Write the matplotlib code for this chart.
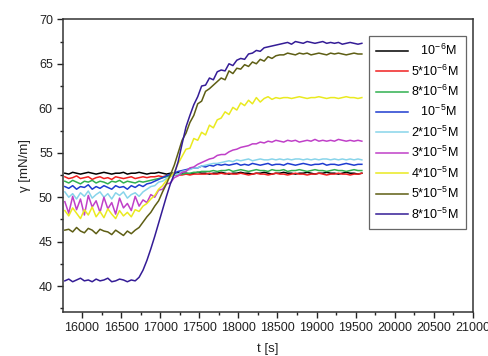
import numpy as np
import matplotlib
matplotlib.use("Agg")
import matplotlib.pyplot as plt
from matplotlib.ticker import MultipleLocator

plt.rcParams['font.family'] = ['Liberation Sans', 'DejaVu Sans']
plt.rcParams['mathtext.fontset'] = 'custom'
plt.rcParams['mathtext.rm'] = 'Liberation Sans'
plt.rcParams['mathtext.it'] = 'Liberation Sans:italic'

# sampling times of the surface tension records [s]
t = np.arange(15780, 19600, 50)

# labels without a prefactor get a leading gap so the column reads right-aligned
conc_labels = [r"$\hspace{0.95}10^{-6}$M", r"5*$10^{-6}$M", r"8*$10^{-6}$M",
               r"$\hspace{0.95}10^{-5}$M", r"2*$10^{-5}$M", r"3*$10^{-5}$M",
               r"4*$10^{-5}$M", r"5*$10^{-5}$M", r"8*$10^{-5}$M"]
colors = ['#000000', '#f02020', '#30b050', '#1e3cd0', '#88d4ea',
          '#c040c8', '#eaea20', '#5e5e14', '#341c96']

g_1e6 = [52.7, 52.6, 52.8, 52.7, 52.6, 52.7, 52.8, 52.7, 52.6, 52.7, 52.8, 52.7, 52.6, 52.7,
         52.7, 52.8, 52.6, 52.7, 52.7, 52.8, 52.7, 52.6, 52.7, 52.7, 52.8, 52.7, 52.6, 52.7,
         52.7, 52.8, 52.7, 52.7, 52.6, 52.7, 52.8, 52.7, 52.7, 52.6, 52.7, 52.7, 52.8, 52.7,
         52.6, 52.7, 52.7, 52.8, 52.7, 52.7, 52.6, 52.7, 52.7, 52.8, 52.7, 52.6, 52.7, 52.7,
         52.8, 52.7, 52.7, 52.6, 52.7, 52.7, 52.8, 52.7, 52.6, 52.7, 52.7, 52.8, 52.7, 52.7,
         52.6, 52.7, 52.8, 52.7, 52.7, 52.6, 52.7]
g_5e6 = [52.3, 52.1, 52.2, 52.4, 52.1, 52.2, 52.3, 52.0, 52.2, 52.3, 52.1, 52.2, 52.0, 52.3,
         52.2, 52.1, 52.2, 52.3, 52.1, 52.2, 52.3,
         52.2, 52.3, 52.3, 52.4, 52.3, 52.4, 52.4, 52.5, 52.5, 52.5, 52.6, 52.5, 52.6, 52.6,
         52.6, 52.6, 52.7, 52.6, 52.6, 52.7,
         52.6, 52.7, 52.6, 52.6, 52.7, 52.6, 52.5, 52.6, 52.7, 52.6, 52.6, 52.5, 52.6, 52.7,
         52.6, 52.6, 52.5, 52.6, 52.7, 52.6, 52.6, 52.5, 52.6, 52.6, 52.7, 52.6, 52.5, 52.6,
         52.6, 52.7, 52.6, 52.6, 52.5, 52.6, 52.6, 52.7]
g_8e6 = [51.8, 51.6, 51.9, 51.7, 51.5, 51.8, 51.7, 51.9, 51.6, 51.8, 51.7, 51.5, 51.8, 51.7,
         51.9, 51.6, 51.8, 51.7, 51.6, 51.8, 51.7,
         51.8, 51.9, 52.0, 52.1, 52.2, 52.3, 52.4, 52.5, 52.6, 52.6, 52.7, 52.7, 52.8, 52.8,
         52.9, 52.9, 52.9, 53.0, 52.9, 53.0,
         53.0, 53.1, 52.9, 53.0, 53.1, 53.0, 52.9, 53.0, 53.1, 53.0, 53.0, 52.9, 53.1, 53.0,
         53.0, 53.1, 52.9, 53.0, 53.0, 53.1, 53.0, 52.9, 53.0, 53.1, 53.0, 53.0, 52.9, 53.0,
         53.1, 53.0, 53.0, 52.9, 53.0, 53.1, 53.0, 53.0]
g_1e5 = [51.2, 51.0, 51.3, 50.9, 51.2, 51.1, 51.4, 50.9, 51.2, 51.0, 51.3, 51.1, 50.9, 51.3,
         51.1, 51.2, 50.9, 51.3, 51.1, 51.4, 51.2,
         51.5, 51.6, 51.8, 52.0, 52.2, 52.4, 52.6, 52.7, 52.9, 53.0, 53.1, 53.2, 53.3, 53.3,
         53.5, 53.4, 53.6, 53.5, 53.7, 53.6,
         53.7, 53.6, 53.7, 53.8, 53.6, 53.7, 53.6, 53.8, 53.7, 53.6, 53.7, 53.8, 53.6, 53.7,
         53.7, 53.6, 53.8, 53.7, 53.6, 53.7, 53.8, 53.7, 53.6, 53.7, 53.7, 53.8, 53.6, 53.7,
         53.7, 53.6, 53.7, 53.8, 53.7, 53.6, 53.7, 53.7]
g_2e5 = [50.6, 50.0, 50.4, 49.8, 50.5, 50.1, 50.7, 49.9, 50.3, 50.6, 50.0, 50.4, 49.8, 50.5,
         50.2, 50.6, 49.9, 50.3, 50.5, 50.1, 50.6,
         50.9, 51.2, 51.3, 51.7, 51.8, 52.1, 52.3, 52.5, 52.6, 52.9, 53.0, 53.1, 53.3, 53.3,
         53.5, 53.6, 53.7, 53.8, 53.8, 53.9,
         54.0, 54.1, 54.0, 54.2, 54.1, 54.2, 54.3, 54.1, 54.2, 54.3, 54.2, 54.2, 54.3, 54.2,
         54.3, 54.2, 54.3, 54.2, 54.3, 54.3, 54.2, 54.3, 54.2, 54.3, 54.2, 54.3, 54.3, 54.2,
         54.3, 54.2, 54.3, 54.2, 54.3, 54.2, 54.3, 54.2]
g_3e5 = [49.5, 48.2, 50.1, 48.6, 49.8, 48.0, 50.2, 48.9, 49.6, 48.3, 50.0, 48.7, 49.4, 48.1,
         49.9, 48.8, 49.3, 48.5, 50.1, 49.0, 49.7,
         49.4, 50.3, 50.0, 50.8, 50.9, 51.5, 51.6, 52.2, 52.4, 52.8, 52.9, 53.3, 53.4, 53.7,
         53.9, 54.1, 54.3, 54.4, 54.7, 54.8, 54.8, 55.1, 55.3, 55.4, 55.6, 55.7, 55.8, 56.0,
         56.0, 56.2, 56.1,
         56.3, 56.2, 56.4, 56.3, 56.2, 56.4, 56.3, 56.4, 56.2, 56.3, 56.4, 56.3, 56.5, 56.3,
         56.4, 56.3, 56.4, 56.3, 56.5, 56.4, 56.3, 56.4, 56.3, 56.4, 56.3]
g_4e5 = [48.5, 47.9, 48.8, 48.2, 47.6, 48.6, 48.0, 48.9, 47.8, 48.4, 47.7, 48.7, 48.1, 47.6,
         48.5, 47.9, 48.3, 47.8, 48.6,
         48.4, 49.0, 49.3, 49.8, 50.2, 50.9, 51.3, 51.9, 52.3, 52.8, 53.8, 54.6, 55.4, 55.5,
         56.6, 56.4, 57.3, 57.0, 58.1, 57.8, 58.7, 58.9, 59.6, 59.3, 60.1, 59.8, 60.6, 60.3,
         60.9, 60.5, 61.2, 60.7, 61.1, 61.3, 61.0, 61.2,
         61.1, 61.2, 61.2, 61.1, 61.2, 61.3, 61.2, 61.1, 61.2, 61.2, 61.3, 61.2, 61.1, 61.2,
         61.2, 61.1, 61.2, 61.3, 61.2, 61.2, 61.1, 61.2]
g_5e5 = [46.3, 46.4, 46.1, 46.6, 46.2, 46.0, 46.5, 46.3, 45.9, 46.4, 46.2, 46.1, 45.8, 46.3,
         46.0, 45.7, 46.2, 45.9, 46.3,
         46.6, 47.2, 47.8, 48.3, 49.0, 49.6, 50.6, 51.5, 52.5, 53.6, 55.0, 56.4, 57.2, 58.4,
         59.2, 60.5, 60.8, 61.9, 62.2, 62.6, 63.0, 63.4, 63.2, 64.2, 63.9, 64.5, 64.4, 64.9,
         64.7, 65.2, 65.0, 65.5, 65.3, 65.8, 65.6, 65.9, 66.0,
         66.0, 66.2, 66.1, 66.0, 66.2, 66.1, 66.2, 66.0, 66.1, 66.2, 66.1, 66.0, 66.2, 66.1,
         66.2, 66.1, 66.0, 66.1, 66.2, 66.1, 66.1]
g_8e5 = [40.6, 40.8, 40.5, 40.7, 40.9, 40.6, 40.7, 40.5, 40.8, 40.6, 40.7, 40.9, 40.5, 40.6,
         40.8, 40.7, 40.5, 40.7, 40.6,
         41.0, 41.8, 42.9, 44.2, 45.6, 47.1, 48.6, 50.1, 51.5, 52.6, 54.0, 56.0, 57.9, 59.2,
         60.4, 61.3, 62.5, 62.6, 63.4, 63.2, 64.1, 64.3, 64.2, 65.0, 64.8, 65.4, 65.6, 65.5,
         66.1, 66.2, 66.5, 66.4, 66.8, 66.9, 67.0, 67.1, 67.2,
         67.3, 67.4, 67.2, 67.5, 67.4, 67.3, 67.5, 67.4, 67.3, 67.4, 67.5, 67.3, 67.4, 67.3,
         67.4, 67.2, 67.3, 67.4, 67.3, 67.2, 67.3]

series = [g_1e6, g_5e6, g_8e6, g_1e5, g_2e5, g_3e5, g_4e5, g_5e5, g_8e5]

fig = plt.figure(figsize=(4.89, 3.56), dpi=100)
ax = fig.add_axes([0.1294, 0.1236, 0.8376, 0.8222])

for vals, lab, col in zip(series, conc_labels, colors):
    ax.plot(t, vals, color=col, lw=1.1, label=lab)

ax.set_xlim(15760, 21000)
ax.set_ylim(37.1, 70)
ax.xaxis.set_major_locator(MultipleLocator(500))
ax.xaxis.set_minor_locator(MultipleLocator(250))
ax.yaxis.set_major_locator(MultipleLocator(5))
ax.yaxis.set_minor_locator(MultipleLocator(2.5))
ax.tick_params(which='both', direction='out', top=False, right=False,
               labelsize=9, colors='#222222', width=1.0)
ax.tick_params(which='major', length=4)
ax.tick_params(which='minor', length=2.5)
for s in ax.spines.values():
    s.set_linewidth(1.1)
    s.set_color('#333333')

ax.set_xlabel('t [s]', fontsize=9.5, labelpad=6, color='#222222')
ax.set_ylabel('γ [mN/m]', fontsize=9.5, labelpad=6, color='#222222')

leg = ax.legend(loc='upper left', bbox_to_anchor=(0.746, 0.943), fontsize=9,
                frameon=True, fancybox=False, edgecolor='#666666', framealpha=1,
                handlelength=2.6, handletextpad=0.25, labelspacing=0.42,
                borderpad=0.55, borderaxespad=0)
leg.get_frame().set_linewidth(0.9)

fig.savefig('out.png', dpi=100)
